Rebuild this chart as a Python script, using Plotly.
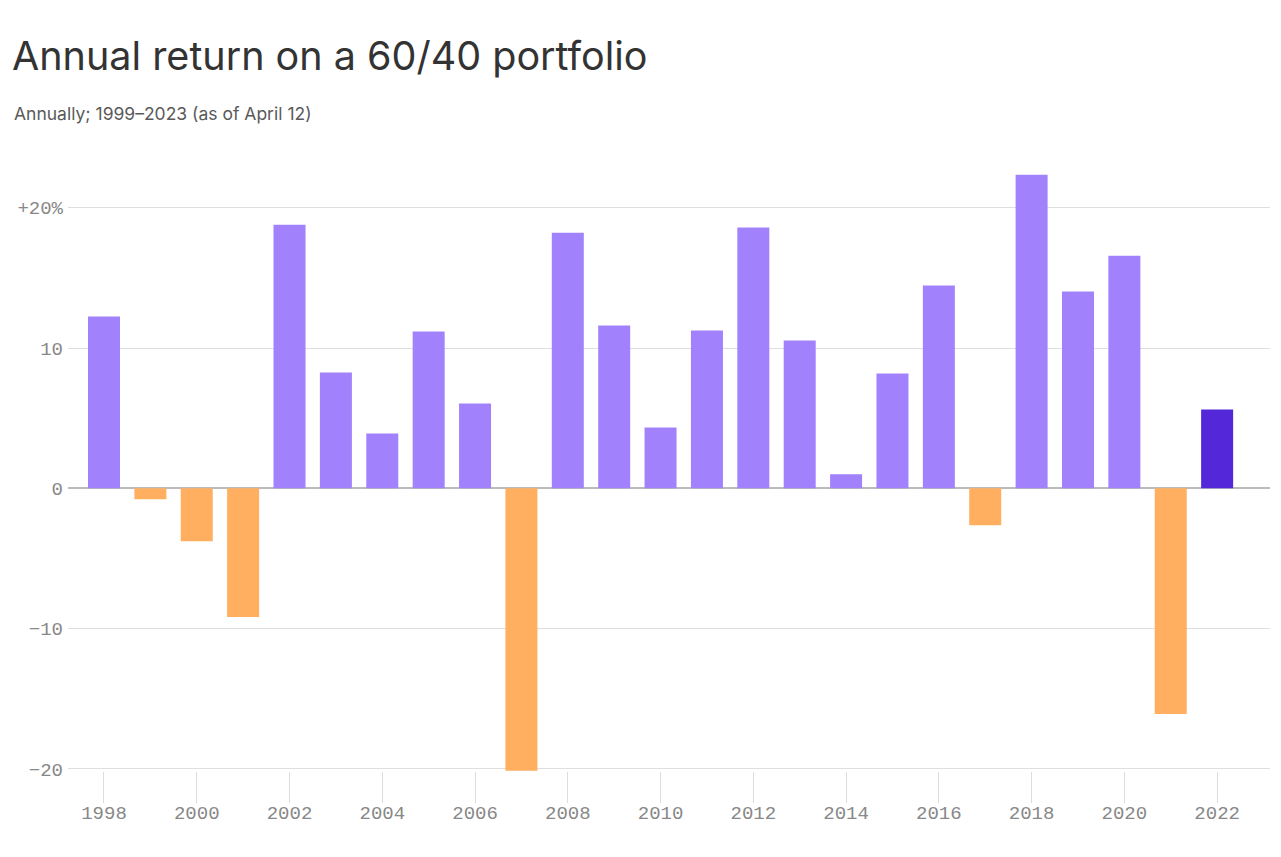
import plotly.graph_objects as go

years = list(range(1998, 2023))
returns = [12.24, -0.78, -3.77, -9.18, 18.79, 8.26, 3.91, 11.17, 6.05, -20.14,
           18.22, 11.60, 4.34, 11.25, 18.58, 10.53, 1.00, 8.19, 14.45, -2.63,
           22.35, 14.02, 16.58, -16.09, 5.62]
tick_years = list(range(1998, 2023, 2))
y_tickvals = [-20, -10, 0, 10, 20]
y_ticktext = ["\u221220", "\u221210", "0", "10", "+20%"]

POS = "#a182fc"
NEG = "#ffaf5f"
LAST = "#5427d9"
colors = [(NEG if v < 0 else POS) for v in returns]
colors[-1] = LAST

fig = go.Figure(go.Bar(x=years, y=returns, marker=dict(color=colors, line=dict(width=0)),
                       width=0.69, hoverinfo="x+y"))

W, H = 1273, 849
L, R, T, B = 60, 11, 152, 86
PW = W - L - R

mono = "Liberation Mono, DejaVu Sans Mono, monospace"
sans = "Inter, Noto Sans, sans-serif"
fig.update_layout(
    width=W, height=H,
    paper_bgcolor="white", plot_bgcolor="white",
    margin=dict(l=L, r=R, t=T, b=B, autoexpand=False),
    showlegend=False,
    title=dict(text="Annual return on a 60/40 portfolio", x=4/W, xref="container", xanchor="left",
               y=1-48/H, yanchor="middle",
               font=dict(family=sans, size=39.5, color="#333333")),
    annotations=[dict(text="Annually; 1999\u20132023 (as of April 12)", xref="paper", yref="paper",
                      x=-56/PW, xanchor="left", y=1, yanchor="middle", yshift=47,
                      showarrow=False, align="left",
                      font=dict(family=sans, size=17.5, color="#5a5a5a"))],
    xaxis=dict(range=[1997.224, 2023.14], tickvals=tick_years, ticktext=[str(y) for y in tick_years],
               showgrid=False, zeroline=False, ticks="outside", ticklen=31, tickwidth=1,
               tickcolor="#dddddd", showline=False, automargin=False, ticklabelstandoff=-7,
               tickfont=dict(family=mono, size=19, color="#888888")),
    yaxis=dict(range=[-20.15, 23.4], tickvals=y_tickvals, ticktext=y_ticktext,
               showgrid=True, gridcolor="#dedede", gridwidth=1,
               zeroline=True, zerolinecolor="#bbbbbb", zerolinewidth=1.5,
               ticks="", ticklabelstandoff=4, automargin=False,
               tickfont=dict(family=mono, size=19, color="#888888")),
)
fig.write_html("out.html")
